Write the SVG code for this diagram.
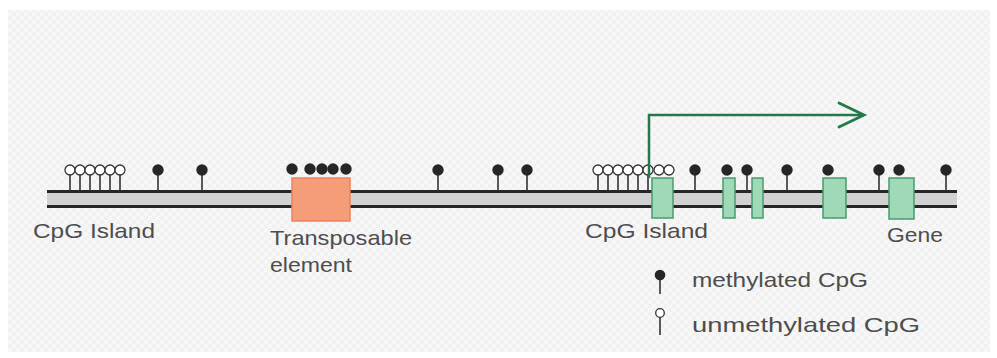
<svg xmlns="http://www.w3.org/2000/svg" width="997" height="358" viewBox="0 0 997 358">
<defs>
<style>
.stem{stroke:#333;stroke-width:1.6}
.m{fill:#262626}
.u{fill:#fff;stroke:#333;stroke-width:1.3}
.exon{fill:#9fd9b8;stroke:#4a9a6e;stroke-width:1.5}
.lbl{font-family:"Liberation Sans",Arial,sans-serif;font-size:21px;fill:#4d4d4d}
</style>
<pattern id="chk" width="8" height="8" patternUnits="userSpaceOnUse">
<rect width="8" height="8" fill="#f7f7f7"/>
<rect width="4" height="4" fill="#f1f1f1"/>
<rect x="4" y="4" width="4" height="4" fill="#f1f1f1"/>
</pattern>
</defs>
<rect width="997" height="358" fill="#ffffff"/>
<rect x="8" y="10" width="982" height="342" fill="url(#chk)"/>

<g id="chromosome">
<rect x="47" y="191" width="910" height="16" fill="#d2d2d2"/>
<line x1="47" y1="191.5" x2="957" y2="191.5" stroke="#262626" stroke-width="3"/>
<line x1="47" y1="206.5" x2="957" y2="206.5" stroke="#262626" stroke-width="3"/>
</g>

<g id="cpg-sites">
<g class="stem">
<line x1="70" y1="174" x2="70" y2="191"/><line x1="80" y1="174" x2="80" y2="191"/><line x1="90" y1="174" x2="90" y2="191"/>
<line x1="100" y1="174" x2="100" y2="191"/><line x1="110" y1="174" x2="110" y2="191"/><line x1="120" y1="174" x2="120" y2="191"/>
<line x1="158" y1="174" x2="158" y2="191"/><line x1="202" y1="174" x2="202" y2="191"/>
<line x1="438" y1="174" x2="438" y2="191"/><line x1="498" y1="174" x2="498" y2="191"/><line x1="527" y1="174" x2="527" y2="191"/>
<line x1="598" y1="174" x2="598" y2="191"/><line x1="608" y1="174" x2="608" y2="191"/><line x1="618" y1="174" x2="618" y2="191"/>
<line x1="628" y1="174" x2="628" y2="191"/><line x1="638" y1="174" x2="638" y2="191"/><line x1="648" y1="174" x2="648" y2="191"/>
<line x1="695" y1="174" x2="695" y2="191"/><line x1="747" y1="174" x2="747" y2="191"/><line x1="787" y1="174" x2="787" y2="191"/>
<line x1="879" y1="174" x2="879" y2="191"/><line x1="946" y1="174" x2="946" y2="191"/>
</g>
<circle class="u" cx="70" cy="170" r="5"/><circle class="u" cx="80" cy="170" r="5"/><circle class="u" cx="90" cy="170" r="5"/>
<circle class="u" cx="100" cy="170" r="5"/><circle class="u" cx="110" cy="170" r="5"/><circle class="u" cx="120" cy="170" r="5"/>
<circle class="u" cx="598" cy="170" r="5"/><circle class="u" cx="608" cy="170" r="5"/><circle class="u" cx="618" cy="170" r="5"/>
<circle class="u" cx="628" cy="170" r="5"/><circle class="u" cx="638" cy="170" r="5"/><circle class="u" cx="648" cy="170" r="5"/>
<circle class="u" cx="659" cy="170" r="5"/><circle class="u" cx="669" cy="170" r="5"/>
<circle class="m" cx="158" cy="170" r="5.7"/><circle class="m" cx="202" cy="170" r="5.7"/>
<circle class="m" cx="292" cy="169" r="5.7"/><circle class="m" cx="310" cy="169" r="5.7"/><circle class="m" cx="322" cy="169" r="5.7"/>
<circle class="m" cx="333" cy="169" r="5.7"/><circle class="m" cx="346" cy="169" r="5.7"/>
<circle class="m" cx="438" cy="170" r="5.7"/><circle class="m" cx="498" cy="170" r="5.7"/><circle class="m" cx="527" cy="170" r="5.7"/>
<circle class="m" cx="695" cy="170" r="5.7"/><circle class="m" cx="727" cy="170" r="5.7"/><circle class="m" cx="747" cy="170" r="5.7"/>
<circle class="m" cx="787" cy="170" r="5.7"/><circle class="m" cx="828" cy="170" r="5.7"/><circle class="m" cx="879" cy="170" r="5.7"/>
<circle class="m" cx="899" cy="170" r="5.7"/><circle class="m" cx="946" cy="170" r="5.7"/>
</g>

<g id="transposable-element">
<rect x="292" y="178" width="58" height="43" fill="#f59c78" stroke="#ec8258" stroke-width="1.5"/>
</g>

<g id="gene">
<rect class="exon" x="652" y="178" width="21" height="40"/>
<rect class="exon" x="723" y="178" width="12" height="40"/>
<rect class="exon" x="752" y="178" width="11" height="40"/>
<rect class="exon" x="823" y="178" width="23" height="40"/>
<rect class="exon" x="889" y="178" width="25" height="41"/>
</g>

<g id="connectors">
<polyline points="649,178 649,115 864,115" fill="none" stroke="#23794a" stroke-width="2.5"/>
<polyline points="839,103 864,115 839,127" fill="none" stroke="#23794a" stroke-width="2.8" stroke-linecap="round" stroke-linejoin="miter"/>
</g>

<g id="labels">
<text class="lbl" x="33" y="238" textLength="122" lengthAdjust="spacingAndGlyphs">CpG Island</text>
<text class="lbl" x="270" y="245" textLength="142" lengthAdjust="spacingAndGlyphs">Transposable</text>
<text class="lbl" x="270" y="272" textLength="82" lengthAdjust="spacingAndGlyphs">element</text>
<text class="lbl" x="585" y="238" textLength="123" lengthAdjust="spacingAndGlyphs">CpG Island</text>
<text class="lbl" x="887" y="242" textLength="56" lengthAdjust="spacingAndGlyphs">Gene</text>
</g>

<g id="legend">
<line class="stem" x1="660" y1="278" x2="660" y2="294"/>
<circle class="m" cx="660" cy="275" r="5.3"/>
<line class="stem" x1="660" y1="317" x2="660" y2="335"/>
<circle class="u" cx="660" cy="313" r="4.3"/>
<text class="lbl" x="692" y="287" textLength="176" lengthAdjust="spacingAndGlyphs">methylated CpG</text>
<text class="lbl" x="692" y="332" textLength="228" lengthAdjust="spacingAndGlyphs">unmethylated CpG</text>
</g>
</svg>
